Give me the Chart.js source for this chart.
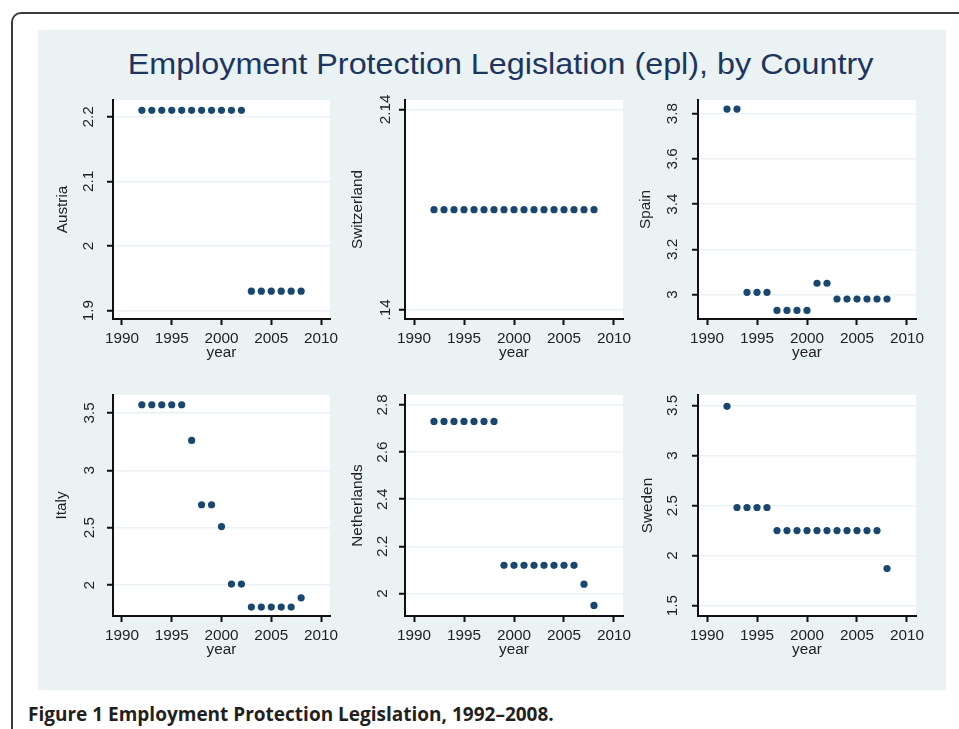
<!DOCTYPE html>
<html>
<head>
<meta charset="utf-8">
<title>Employment Protection Legislation (epl), by Country</title>
<script src="https://cdn.jsdelivr.net/npm/chart.js@4.4.0/dist/chart.umd.min.js"></script>
<style>
  body { margin: 0; width: 959px; height: 729px; overflow: hidden; position: relative; background: #fff; }
  #frame { position: absolute; left: 11px; top: 12px; width: 1000px; height: 800px; border: 2px solid #3a3a3a; border-radius: 10px; box-sizing: border-box; }
  #region { position: absolute; left: 38px; top: 30px; width: 908px; height: 660px; background: #eaf2f3; }
  #title { position: absolute; left: 0; top: 49.5px; width: 1001px; text-align: center; font: 28.9px/1 "Liberation Sans", Arial, sans-serif; color: #1e3560; white-space: nowrap; transform: scaleX(1.119); transform-origin: 500.5px 0; }
  #caption { position: absolute; left: 28px; top: 704.8px; font: bold 19px/1 "Open Sans", sans-serif; color: #231f20; white-space: nowrap; }
  canvas { position: absolute; }
</style>
</head>
<body>
<div id="frame"></div>
<div id="region"></div>
<div id="title">Employment Protection Legislation (epl), by Country</div>
<div id="caption">Figure 1 Employment Protection Legislation, 1992–2008.</div>
<script>
// Data
const years = [1992, 1993, 1994, 1995, 1996, 1997, 1998, 1999, 2000,
               2001, 2002, 2003, 2004, 2005, 2006, 2007, 2008];
const xTicks = [1990, 1995, 2000, 2005, 2010];
const xRange = [1989.1, 2010.9];

const countries = ['Austria', 'Switzerland', 'Spain', 'Italy', 'Netherlands', 'Sweden'];

const austria     = [2.21, 2.21, 2.21, 2.21, 2.21, 2.21, 2.21, 2.21, 2.21, 2.21, 2.21, 1.93, 1.93, 1.93, 1.93, 1.93, 1.93];
const switzerland = [1.14, 1.14, 1.14, 1.14, 1.14, 1.14, 1.14, 1.14, 1.14, 1.14, 1.14, 1.14, 1.14, 1.14, 1.14, 1.14, 1.14];
const spain       = [3.82, 3.82, 3.01, 3.01, 3.01, 2.93, 2.93, 2.93, 2.93, 3.05, 3.05, 2.98, 2.98, 2.98, 2.98, 2.98, 2.98];
const italy       = [3.57, 3.57, 3.57, 3.57, 3.57, 3.26, 2.70, 2.70, 2.51, 2.01, 2.01, 1.81, 1.81, 1.81, 1.81, 1.81, 1.89];
const netherlands = [2.73, 2.73, 2.73, 2.73, 2.73, 2.73, 2.73, 2.12, 2.12, 2.12, 2.12, 2.12, 2.12, 2.12, 2.12, 2.04, 1.95];
const sweden      = [3.49, 2.48, 2.48, 2.48, 2.48, 2.25, 2.25, 2.25, 2.25, 2.25, 2.25, 2.25, 2.25, 2.25, 2.25, 2.25, 1.87];

const austriaTicks      = [1.9, 2, 2.1, 2.2];
const austriaLabels     = ['1.9', '2', '2.1', '2.2'];
const switzerlandTicks  = [0.14, 2.14];
const switzerlandLabels = ['.14', '2.14'];
const spainTicks        = [3, 3.2, 3.4, 3.6, 3.8];
const spainLabels       = ['3', '3.2', '3.4', '3.6', '3.8'];
const italyTicks        = [2, 2.5, 3, 3.5];
const italyLabels       = ['2', '2.5', '3', '3.5'];
const netherlandsTicks  = [2, 2.2, 2.4, 2.6, 2.8];
const netherlandsLabels = ['2', '2.2', '2.4', '2.6', '2.8'];
const swedenTicks       = [1.5, 2, 2.5, 3, 3.5];
const swedenLabels      = ['1.5', '2', '2.5', '3', '3.5'];

const austriaRange      = [1.887, 2.226];
const switzerlandRange  = [0.05, 2.233];
const spainRange        = [2.892, 3.86];
const italyRange        = [1.732, 3.655];
const netherlandsRange  = [1.905, 2.842];
const swedenRange       = [1.397, 3.603];

// Layout: plot box [left, top, right, bottom] in page pixels
const panels = [
  { name: countries[0], values: austria,     ticks: austriaTicks,     labels: austriaLabels,     range: austriaRange,     box: [113, 100, 330, 319], labelGap: 19.7, titlePad: 10.8 },
  { name: countries[1], values: switzerland, ticks: switzerlandTicks, labels: switzerlandLabels, range: switzerlandRange, box: [405, 100, 623, 319], labelGap: 15,   titlePad: 13.8 },
  { name: countries[2], values: spain,       ticks: spainTicks,       labels: spainLabels,       range: spainRange,       box: [698, 100, 916, 319], labelGap: 21,   titlePad: 8.5 },
  { name: countries[3], values: italy,       ticks: italyTicks,       labels: italyLabels,       range: italyRange,       box: [113, 395, 330, 616], labelGap: 19,   titlePad: 9.5 },
  { name: countries[4], values: netherlands, ticks: netherlandsTicks, labels: netherlandsLabels, range: netherlandsRange, box: [405, 395, 623, 616], labelGap: 18.3, titlePad: 13.8 },
  { name: countries[5], values: sweden,      ticks: swedenTicks,      labels: swedenLabels,      range: swedenRange,      box: [698, 395, 916, 616], labelGap: 21,   titlePad: 10.5 }
];

const FONT = '"Liberation Sans", Arial, sans-serif';
const FONT_SIZE = 15.3;
const TEXT = '#222';
const AXIS = '#111';
const GRID = '#eaf2f3';
const DOT = '#1a476f';

const Y_W = 70, X_H = 43, PAD_T = 6, PAD_R = 20;

Chart.defaults.font.family = FONT;

// white plot region like Stata's plotregion
const plotBg = {
  id: 'plotBg',
  beforeDraw(chart) {
    const a = chart.chartArea, ctx = chart.ctx;
    ctx.save();
    ctx.fillStyle = '#ffffff';
    ctx.fillRect(a.left, a.top, a.right - a.left, a.bottom - a.top);
    ctx.restore();
  }
};

// y tick labels rotated 90 degrees, as Stata draws them
const yTickText = {
  id: 'yTickText',
  afterDraw(chart, args, opts) {
    const s = chart.scales.y, ctx = chart.ctx;
    ctx.save();
    ctx.font = FONT_SIZE + 'px ' + FONT;
    ctx.fillStyle = TEXT;
    ctx.textAlign = 'center';
    ctx.textBaseline = 'alphabetic';
    s.ticks.forEach(t => {
      ctx.save();
      ctx.translate(s.right - opts.gap, s.getPixelForValue(t.value));
      ctx.rotate(-Math.PI / 2);
      ctx.fillText(t.label, 0, 0);
      ctx.restore();
    });
    ctx.restore();
  }
};

panels.forEach(p => {
  const [L, T, R, B] = p.box;
  const w = R - L + Y_W + PAD_R;
  const h = B - T + X_H + PAD_T;
  const canvas = document.createElement('canvas');
  canvas.width = w;
  canvas.height = h;
  canvas.style.left = (L - Y_W) + 'px';
  canvas.style.top = (T - PAD_T) + 'px';
  canvas.style.width = w + 'px';
  canvas.style.height = h + 'px';
  document.body.appendChild(canvas);

  new Chart(canvas, {
    type: 'scatter',
    data: {
      datasets: [{
        data: years.map((yr, i) => ({ x: yr, y: p.values[i] })),
        pointRadius: 3.6,
        pointBackgroundColor: DOT,
        pointBorderWidth: 0,
        clip: false
      }]
    },
    plugins: [plotBg, yTickText],
    options: {
      responsive: false,
      animation: false,
      events: [],
      layout: { padding: { left: 0, top: PAD_T, right: PAD_R, bottom: 0 } },
      plugins: {
        legend: { display: false },
        tooltip: { enabled: false },
        yTickText: { gap: p.labelGap }
      },
      scales: {
        x: {
          type: 'linear',
          position: 'bottom',
          min: xRange[0],
          max: xRange[1],
          afterBuildTicks: s => { s.ticks = xTicks.map(v => ({ value: v })); },
          afterFit: s => { s.height = X_H; },
          ticks: {
            color: TEXT,
            font: { size: FONT_SIZE },
            padding: 5,
            autoSkip: false,
            maxRotation: 0,
            callback: v => String(v)
          },
          grid: { drawOnChartArea: false, tickLength: 6, tickWidth: 2, tickColor: AXIS },
          border: { color: AXIS, width: 2 },
          title: { display: true, text: 'year', color: TEXT, font: { size: FONT_SIZE }, padding: 0 }
        },
        y: {
          type: 'linear',
          position: 'left',
          min: p.range[0],
          max: p.range[1],
          afterBuildTicks: s => { s.ticks = p.ticks.map(v => ({ value: v })); },
          afterFit: s => { s.width = Y_W; },
          ticks: { display: false, callback: (v, i) => p.labels[i] },
          grid: { color: GRID, lineWidth: 1.5, tickLength: 6, tickWidth: 2, tickColor: AXIS },
          border: { color: AXIS, width: 2 },
          title: { display: true, text: p.name, color: TEXT, font: { size: FONT_SIZE }, padding: { top: p.titlePad, bottom: 0 } }
        }
      }
    }
  });
});
</script>
</body>
</html>
